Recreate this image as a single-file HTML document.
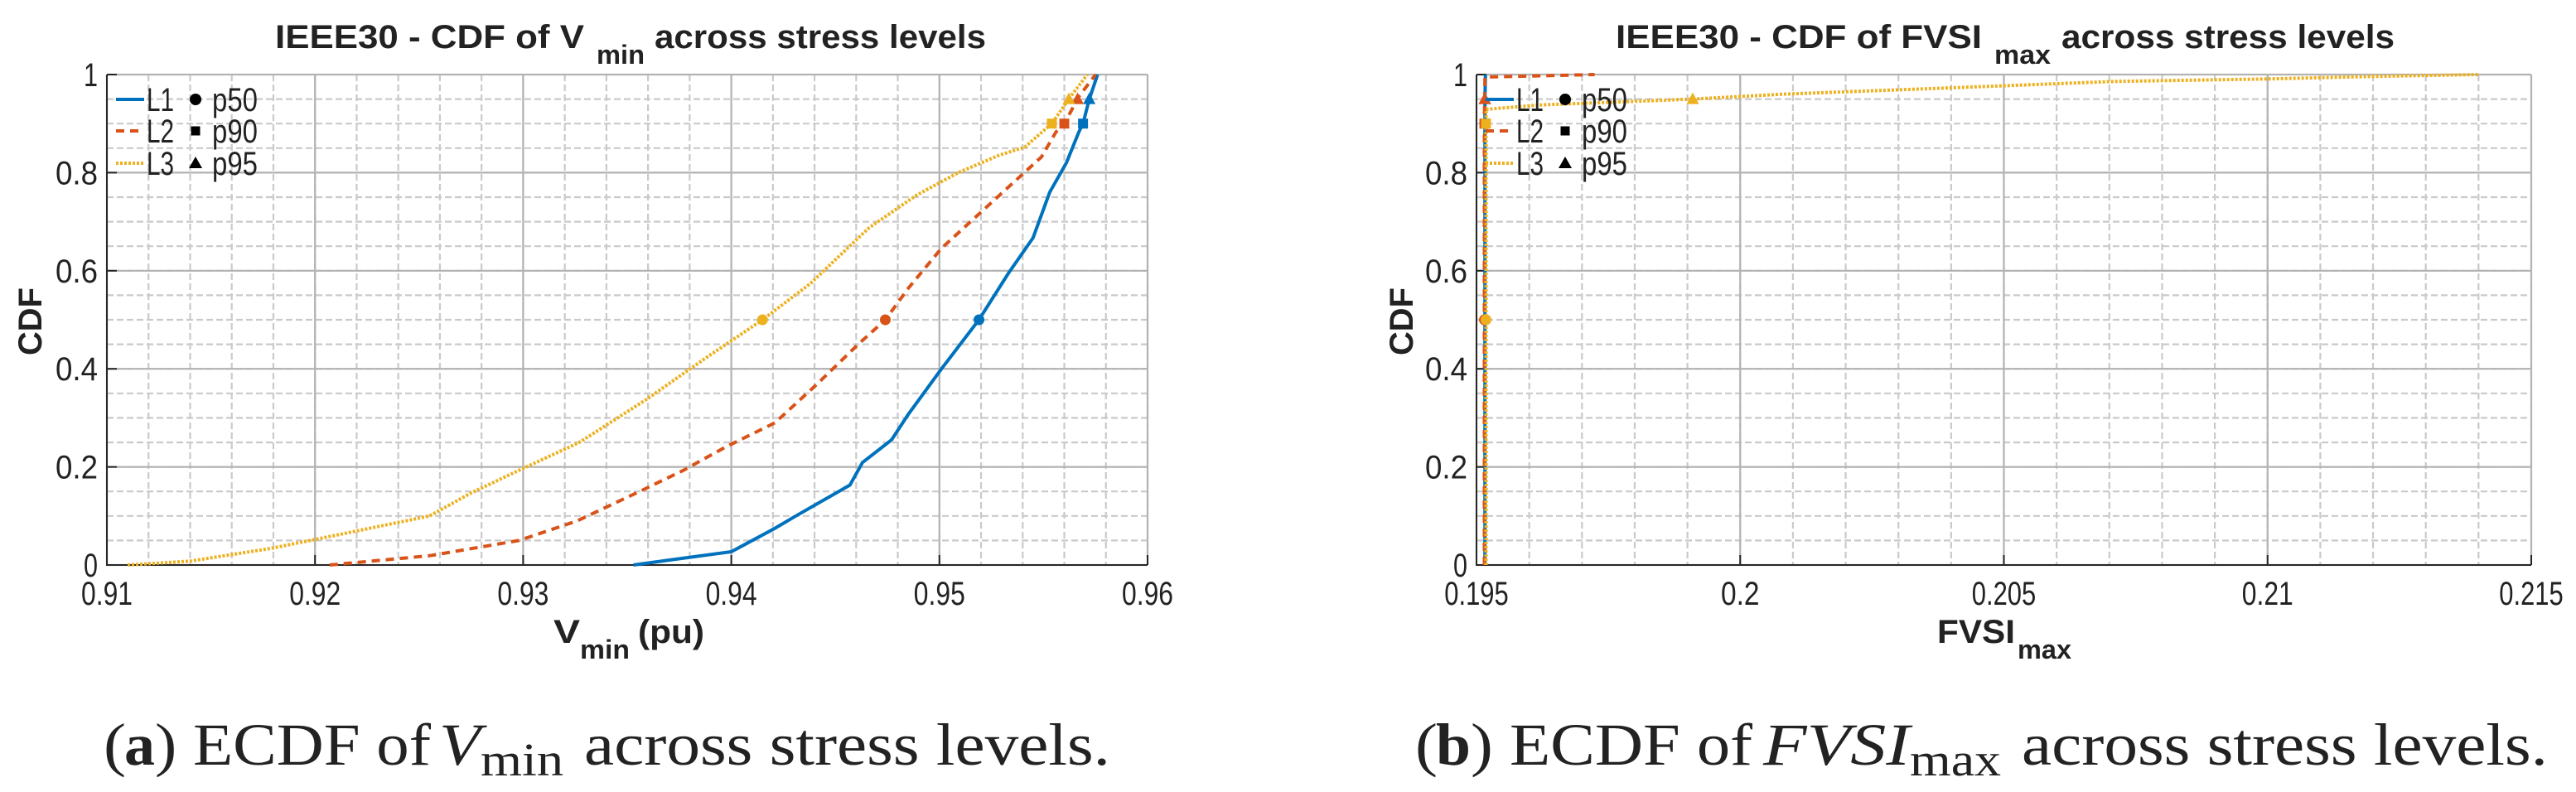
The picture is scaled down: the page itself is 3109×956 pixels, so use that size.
<!DOCTYPE html>
<html><head><meta charset="utf-8"><style>
html,body{margin:0;padding:0;background:#fff;}
svg{display:block;}
</style></head><body>
<svg id="fig" width="3109" height="956" viewBox="0 0 3109 956" xmlns="http://www.w3.org/2000/svg"></svg>
<script>
// ---- Data: left chart (Vmin) ----
const vminL1x=[0.9353,0.9370,0.9400,0.9421,0.9431,0.9457,0.9463,0.9477,0.9485,0.9501,0.9519,0.9533,0.9545,0.9553,0.9561,0.9567,0.9569,0.9572,0.9576];
const vminL1y=[0,0.010,0.027,0.075,0.10,0.163,0.209,0.255,0.307,0.40,0.50,0.594,0.667,0.76,0.82,0.883,0.90,0.95,1.0];
const vminL2x=[0.9207,0.9255,0.9298,0.9326,0.9357,0.9377,0.9397,0.9421,0.9441,0.9461,0.9474,0.9485,0.9501,0.9517,0.9533,0.9549,0.9556,0.9560,0.9567,0.9575];
const vminL2y=[0,0.019,0.05,0.09,0.152,0.193,0.24,0.29,0.368,0.45,0.50,0.564,0.646,0.708,0.77,0.832,0.883,0.90,0.955,1.0];
const vminL3x=[0.9110,0.9140,0.9179,0.9215,0.9255,0.9275,0.9298,0.9327,0.9359,0.9387,0.9415,0.9438,0.9466,0.9489,0.9509,0.9529,0.9541,0.9554,0.9563,0.9571];
const vminL3y=[0,0.008,0.034,0.065,0.10,0.147,0.193,0.25,0.337,0.42,0.50,0.574,0.687,0.754,0.80,0.836,0.852,0.90,0.955,1.0];
const vminXTicks=["0.91","0.92","0.93","0.94","0.95","0.96"];
const vminXTickVals=[0.91,0.92,0.93,0.94,0.95,0.96];
// ---- Data: right chart (FVSI) ----
const fvsiL1x=[0.19516,0.19516,0.19517];
const fvsiL1y=[0,0.95,1.0];
const fvsiL2x=[0.19515,0.19515,0.19516,0.19724];
const fvsiL2y=[0,0.90,0.995,1.0];
const fvsiL3x=[0.19518,0.19518,0.1962,0.1991,0.2008,0.2040,0.2071,0.2100,0.2119,0.2140];
const fvsiL3y=[0,0.929,0.938,0.950,0.960,0.973,0.986,0.991,0.996,1.0];
const fvsiXTicks=["0.195","0.2","0.205","0.21","0.215"];
const fvsiXTickVals=[0.195,0.2,0.205,0.21,0.215];
const yTicks=["0","0.2","0.4","0.6","0.8","1"];
const yTickVals=[0,0.2,0.4,0.6,0.8,1];
const pctLevels=[0.5,0.9,0.95];

const NS="http://www.w3.org/2000/svg";
const svg=document.getElementById('fig');
const COLORS=["#0072BD","#D95319","#EDB120"];
function el(tag,attrs,parent){const e=document.createElementNS(NS,tag);for(const k in attrs)e.setAttribute(k,attrs[k]);(parent||svg).appendChild(e);return e;}
function txt(parent,x,y,s,size,opts){opts=opts||{};
  const t=el('text',{x:x,y:y,'font-size':size,'font-family':opts.serif?'"Liberation Serif",serif':'"Liberation Sans",sans-serif',fill:'#222','text-anchor':opts.anchor||'start'},parent);
  if(opts.bold)t.setAttribute('font-weight','bold');
  if(opts.italic)t.setAttribute('font-style','italic');
  if(opts.len){t.setAttribute('textLength',opts.len);t.setAttribute('lengthAdjust','spacingAndGlyphs');}
  if(opts.rot)t.setAttribute('transform',opts.rot);
  t.textContent=s;return t;}
function interpX(xs,ys,p){for(let i=1;i<ys.length;i++){if(ys[i]>=p){const f=(p-ys[i-1])/((ys[i]-ys[i-1])||1);return xs[i-1]+f*(xs[i]-xs[i-1]);}}return xs[xs.length-1];}

function chart(cfg){
  const g=el('g',{});
  
  
  const L=cfg.L,R=cfg.R,T=90,B=682;
  const sx=v=>L+(v-cfg.x0)/(cfg.x1-cfg.x0)*(R-L);
  const sy=v=>B-v*(B-T);
  for(let v=cfg.x0;v<=cfg.x1+1e-9;v+=cfg.minor){const x=sx(v);
    const gl=el('line',{x1:x,x2:x,y1:T,y2:B,stroke:'#cacaca','stroke-width':2.2,'stroke-dasharray':'8,4'},g);
    }
  for(let v=0.05;v<1;v+=0.05){const y=sy(v);
    const gl=el('line',{x1:L,x2:R,y1:y,y2:y,stroke:'#cacaca','stroke-width':2.2,'stroke-dasharray':'8,4'},g);
    }
  cfg.xv.forEach(v=>{const x=sx(v);const gl=el('line',{x1:x,x2:x,y1:T,y2:B,stroke:'#b3b3b3','stroke-width':2.2},g);
    });
  yTickVals.forEach(v=>{const y=sy(v);const gl=el('line',{x1:L,x2:R,y1:y,y2:y,stroke:'#b3b3b3','stroke-width':2.2},g);
    });
  const ax=el('path',{d:`M${L},${T}V${B}H${R}`,fill:'none',stroke:'#262626','stroke-width':2},g);
  
  cfg.xv.forEach((v,i)=>{const x=sx(v);el('line',{x1:x,x2:x,y1:B,y2:B-12,stroke:'#262626','stroke-width':2},g);
    const t=txt(g,x,730,cfg.xt[i],40,{anchor:'middle',len:cfg.xt[i].length*15.5});
    });
  yTickVals.forEach((v,i)=>{const y=sy(v);el('line',{x1:L,x2:L+12,y1:y,y2:y,stroke:'#262626','stroke-width':2},g);
    const t=txt(g,L-11,y+14,yTicks[i],40,{anchor:'end',len:yTicks[i].length*17});
    });
  const styles=[{w:4,d:''},{w:4,d:'10,7'},{w:4,d:'3,2'}];
  cfg.series.forEach((s,k)=>{
    const d=s.x.map((v,i)=>(i?'L':'M')+sx(v).toFixed(1)+','+sy(s.y[i]).toFixed(1)).join('');
    const p=el('path',{d:d,fill:'none',stroke:COLORS[k],'stroke-width':styles[k].w,'stroke-dasharray':styles[k].d},g);
    
  });
  cfg.series.forEach((s,k)=>{
    pctLevels.forEach((p,j)=>{const x=sx(interpX(s.x,s.y,p)),y=sy(p);let m;
      if(j==0)m=el('circle',{cx:x,cy:y,r:6.5,fill:COLORS[k]},g);
      else if(j==1)m=el('rect',{x:x-6,y:y-6,width:12,height:12,fill:COLORS[k]},g);
      else m=el('polygon',{points:`${x},${y-8} ${x-7.5},${y+6} ${x+7.5},${y+6}`,fill:COLORS[k]},g);
      });
  });
  const lg=el('g',{},g);
  
  const rows=[120,158,197],names=['L1','L2','L3'],pn=['p50','p90','p95'];
  rows.forEach((y,k)=>{const lx=cfg.legX;
    el('line',{x1:lx,x2:lx+34,y1:y,y2:y,stroke:COLORS[k],'stroke-width':4,'stroke-dasharray':styles[k].d},lg);
    const t1=txt(lg,lx+37,y+14,names[k],40,{len:33});
    const mx=lx+96;
    if(k==0)el('circle',{cx:mx,cy:y,r:7,fill:'#000'},lg);
    else if(k==1)el('rect',{x:mx-5.5,y:y-5.5,width:11,height:11,fill:'#000'},lg);
    else el('polygon',{points:`${mx},${y-8} ${mx-8},${y+6} ${mx+8},${y+6}`,fill:'#000'},lg);
    const t2=txt(lg,lx+116,y+14,pn[k],40,{len:55});
  });
  cfg.title.forEach(p=>{const t=txt(g,p[0],p[2],p[3],p[4],{bold:true,len:p[1]-p[0]});});
  cfg.xlab.forEach(p=>{const t=txt(g,p[0],p[2],p[3],p[4],{bold:true,len:p[1]-p[0]});});
  const yl=txt(g,0,0,'CDF',40,{bold:true,anchor:'middle',len:82,rot:`translate(${cfg.ylx},388) rotate(-90)`});
  
  cfg.cap.forEach(p=>{const t=txt(g,p[0],p[2],p[3],p[4],{serif:true,len:p[1]-p[0],italic:p[5]=='i',bold:p[5]=='b'});});
}

chart({name:'vmin-cdf-chart',L:129,R:1385,x0:0.91,x1:0.96,minor:0.002,xv:vminXTickVals,xt:vminXTicks,legX:140,ylx:50,
  series:[{x:vminL1x,y:vminL1y},{x:vminL2x,y:vminL2y},{x:vminL3x,y:vminL3y}],
  title:[[332,705,58,'IEEE30 - CDF of  V',40],[720,778,77,'min',32],[790,1190,58,'across stress levels',40]],
  xlab:[[668,700,776,'V',40],[700,760,795,'min',32],[770,850,776,'(pu)',40]],
  cap:[[125,152,923,'(',72],[150,187,923,'a',72,'b'],[187,520,923,') ECDF of',72],[530,580,923,'V',72,'i'],[580,680,936,'min',56],[705,1340,923,'across stress levels.',72]]});

chart({name:'fvsi-cdf-chart',L:1782,R:3055,x0:0.195,x1:0.215,minor:0.001,xv:fvsiXTickVals,xt:fvsiXTicks,legX:1793,ylx:1705,
  series:[{x:fvsiL1x,y:fvsiL1y},{x:fvsiL2x,y:fvsiL2y},{x:fvsiL3x,y:fvsiL3y}],
  title:[[1950,2392,58,'IEEE30  - CDF of FVSI',40],[2407,2475,77,'max',32],[2488,2890,58,'across stress levels',40]],
  xlab:[[2338,2432,776,'FVSI',40],[2435,2500,795,'max',32]],
  cap:[[1708,1735,923,'(',72],[1733,1775,923,'b',72,'b'],[1775,2115,923,') ECDF of',72],[2128,2305,923,'FVSI',72,'i'],[2305,2415,936,'max',56],[2440,3075,923,'across stress levels.',72]]});
</script>
</body></html>
